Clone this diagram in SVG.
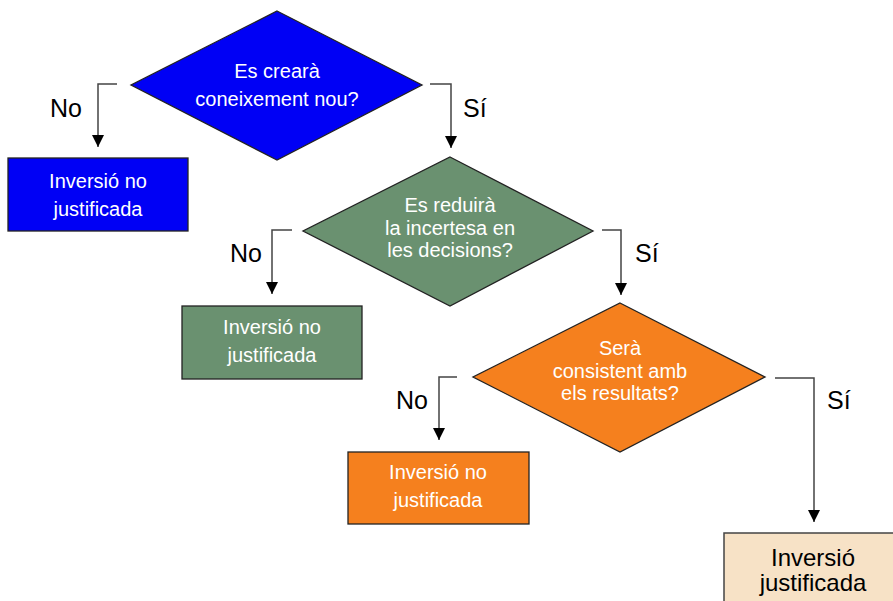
<svg xmlns="http://www.w3.org/2000/svg" width="893" height="601" viewBox="0 0 893 601">
<style>
  .shape { stroke: #222; stroke-width: 1.3; }
  .blue { fill: #0000F5; }
  .green { fill: #6A9170; }
  .orange { fill: #F5801E; }
  .wheat { fill: #F7E2C6; stroke: #444; stroke-width: 1.5; }
  .t { font-family: "Liberation Sans", Arial, sans-serif; font-size: 20px; fill: #ffffff; text-anchor: middle; }
  .tb { font-family: "Liberation Sans", Arial, sans-serif; font-size: 24px; fill: #000; text-anchor: middle; }
  .lbl { font-family: "Liberation Sans", Arial, sans-serif; font-size: 25px; fill: #000; }
  .conn { fill: none; stroke: #444; stroke-width: 1.5; }
</style>
<defs>
  <marker id="arr" markerUnits="userSpaceOnUse" markerWidth="12" markerHeight="12" refX="12" refY="6" orient="auto">
    <path d="M0,0 L12,6 L0,12 z" fill="#000"/>
  </marker>
</defs>
<rect width="893" height="601" fill="#ffffff"/>

<g id="connectors">
  <polyline class="conn" points="117,84 98,84 98,147" marker-end="url(#arr)"/>
  <polyline class="conn" points="430,84 451,84 451,148" marker-end="url(#arr)"/>
  <polyline class="conn" points="292,230 272,230 272,294" marker-end="url(#arr)"/>
  <polyline class="conn" points="602,230 621,230 621,295" marker-end="url(#arr)"/>
  <polyline class="conn" points="457,377 439,377 439,440" marker-end="url(#arr)"/>
  <polyline class="conn" points="775,378 814,378 814,522" marker-end="url(#arr)"/>
  <text class="lbl" x="50" y="117">No</text>
  <text class="lbl" x="463" y="117">Sí</text>
  <text class="lbl" x="230" y="262">No</text>
  <text class="lbl" x="635" y="262">Sí</text>
  <text class="lbl" x="396" y="409">No</text>
  <text class="lbl" x="827" y="409">Sí</text>
</g>

<g id="decision1">
  <polygon class="shape blue" points="277,11 422,85 277,160 131,85"/>
  <text class="t" x="277" y="78">Es crearà</text>
  <text class="t" x="277" y="106">coneixement nou?</text>
</g>

<g id="reject1">
  <rect class="shape blue" x="8" y="158" width="180" height="73"/>
  <text class="t" x="98" y="188">Inversió no</text>
  <text class="t" x="98" y="216">justificada</text>
</g>

<g id="decision2">
  <polygon class="shape green" points="450,157 593,231 450,306 303,231"/>
  <text class="t" x="450" y="212">Es reduirà</text>
  <text class="t" x="450" y="235">la incertesa en</text>
  <text class="t" x="450" y="257">les decisions?</text>
</g>

<g id="reject2">
  <rect class="shape green" x="182" y="306" width="180" height="73"/>
  <text class="t" x="272" y="334">Inversió no</text>
  <text class="t" x="272" y="362">justificada</text>
</g>

<g id="decision3">
  <polygon class="shape orange" points="620,303 765,377 620,452 473,377"/>
  <text class="t" x="620" y="355">Serà</text>
  <text class="t" x="620" y="378">consistent amb</text>
  <text class="t" x="620" y="400">els resultats?</text>
</g>

<g id="reject3">
  <rect class="shape orange" x="348" y="452" width="181" height="72"/>
  <text class="t" x="438" y="479">Inversió no</text>
  <text class="t" x="438" y="507">justificada</text>
</g>

<g id="accept">
  <rect class="wheat" x="724" y="533" width="180" height="80"/>
  <text class="tb" x="813" y="566">Inversió</text>
  <text class="tb" x="813" y="591">justificada</text>
</g>
</svg>
